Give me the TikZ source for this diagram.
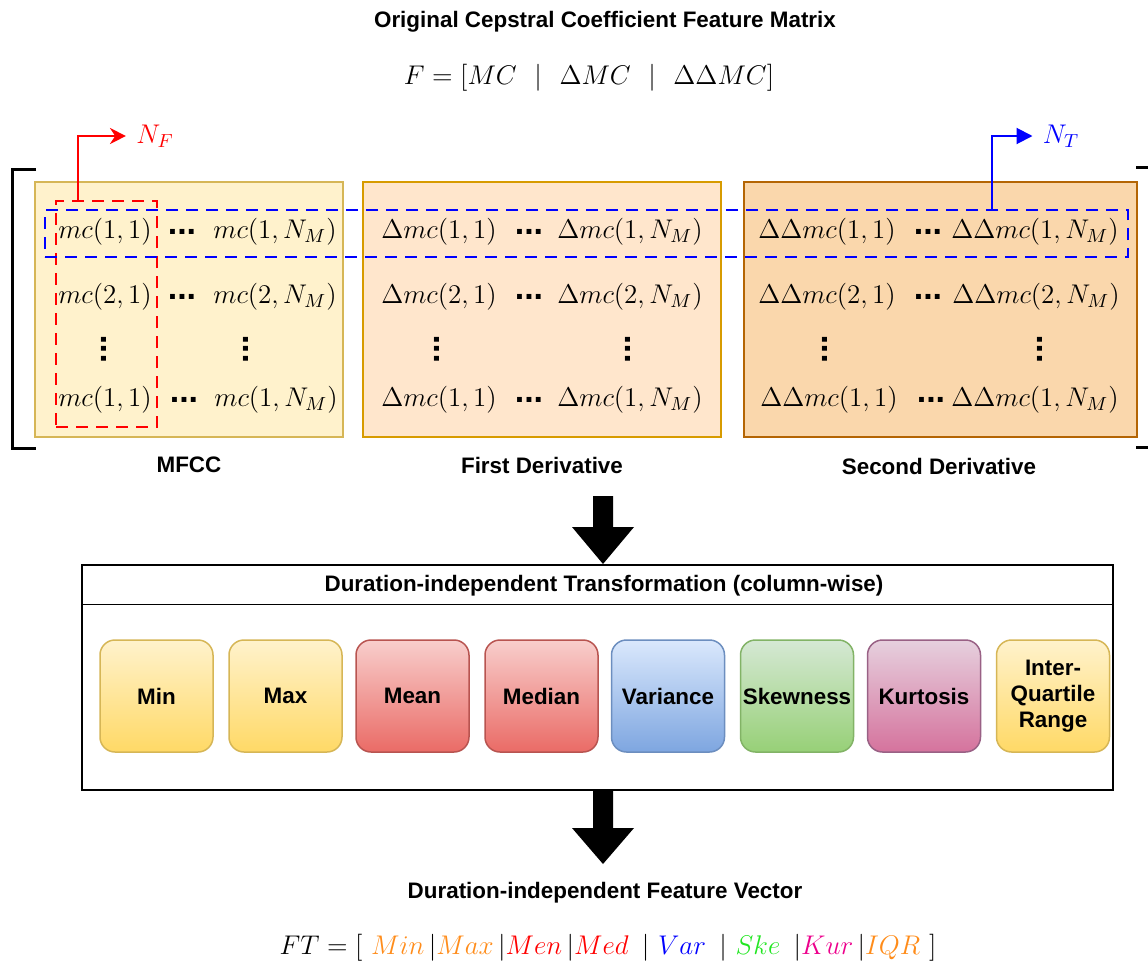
\RequirePackage{fix-cm}
\documentclass[tikz,border=0pt]{standalone}
\usepackage{fontspec}
\setsansfont{Liberation Sans}
\usetikzlibrary{arrows.meta}

\definecolor{mfccfill}{HTML}{FFF2CC}
\definecolor{mfccline}{HTML}{D6B656}
\definecolor{firstfill}{HTML}{FFE6CC}
\definecolor{firstline}{HTML}{D79B00}
\definecolor{secfill}{HTML}{FAD7AC}
\definecolor{secline}{HTML}{B46504}
\definecolor{ftorange}{HTML}{FF8C1A}
\definecolor{ftgreen}{HTML}{22E622}

\begin{document}
\begin{tikzpicture}[x=0.5pt, y=-0.5pt,
        lbl/.style = {font=\sffamily\bfseries\fontsize{11.2}{13}\selectfont, inner sep=0pt},
        ent/.style = {font=\fontsize{13.5}{15}\selectfont, inner sep=0pt},
        hdots/.style = {font=\sffamily\bfseries\fontsize{17}{17}\selectfont, inner sep=0pt, text height=2.3pt, text depth=0pt},
        vdots/.style = {hdots, rotate=90},
        mbox/.style = {draw, line width=0.75pt, inner sep=0pt, minimum width=154pt, minimum height=127.5pt},
        sel/.style = {draw, line width=1pt, dash pattern=on 6pt off 4pt, inner sep=0pt},
        brk/.style = {draw, line width=1.5pt},
        arr/.style = {draw, line width=1pt},
        stat/.style = {lbl, draw, line width=0.75pt, rounded corners=7.5pt, align=center, minimum width=56.5pt, minimum height=56pt},
        yellowstat/.style = {stat, top color=mfccfill, bottom color={rgb,255:red,255;green,217;blue,102}, draw=mfccline},
        redstat/.style = {stat, top color={rgb,255:red,248;green,206;blue,204}, bottom color={rgb,255:red,234;green,107;blue,102}, draw={rgb,255:red,184;green,84;blue,80}},
        bluestat/.style = {stat, top color={rgb,255:red,218;green,232;blue,252}, bottom color={rgb,255:red,126;green,166;blue,224}, draw={rgb,255:red,108;green,142;blue,191}},
        greenstat/.style = {stat, top color={rgb,255:red,213;green,232;blue,212}, bottom color={rgb,255:red,151;green,208;blue,119}, draw={rgb,255:red,130;green,179;blue,102}},
        purplestat/.style = {stat, top color={rgb,255:red,230;green,208;blue,222}, bottom color={rgb,255:red,213;green,115;blue,157}, draw={rgb,255:red,153;green,97;blue,133}},
    ]
    \useasboundingbox (0,0) rectangle (1148,964);

    % heading
    \node (title) [lbl] at (605,22) {Original Cepstral Coefficient Feature Matrix};
    \node (fdef) [ent] at (589,78) {$F = [MC \ \ | \ \ \Delta MC \ \ | \ \ \Delta\Delta MC]$};

    % bracket
    \path[brk] (36,169) -- (12,169) -- (12,448) -- (36,448);
    \path[brk] (1136,167) -- (1148,167);
    \path[brk] (1136,447) -- (1148,447);

    % the three blocks
    \node (mfcc) [mbox, fill=mfccfill, draw=mfccline] at (189,309.5) {};
    \node (first) [mbox, fill=firstfill, draw=firstline, minimum width=179pt] at (542,309.5) {};
    \node (second) [mbox, fill=secfill, draw=secline, minimum width=196.5pt] at (940.5,309.5) {};

    \node (mfcclbl) [lbl] at (189,465) {MFCC};
    \node (firstlbl) [lbl] at (542,465) {First Derivative};
    \node (secondlbl) [lbl] at (939,466) {Second Derivative};

    % MFCC entries
    \node (m11) [ent] at (105,232) {$mc(1,1)$};
    \node (m12) [ent] at (275,232) {$mc(1,N_M)$};
    \node (m21) [ent] at (105,297) {$mc(2,1)$};
    \node (m22) [ent] at (275,297) {$mc(2,N_M)$};
    \node (m41) [ent] at (105,400) {$mc(1,1)$};
    \node (m42) [ent] at (276,400) {$mc(1,N_M)$};
    \node [hdots] at (182,232) {...};
    \node [hdots] at (182,297) {...};
    \node [hdots] at (184,400) {...};
    \node [vdots] at (104,349) {...};
    \node [vdots] at (246,349) {...};

    % first derivative entries
    \node (d11) [ent] at (439,232) {$\Delta mc(1,1)$};
    \node (d12) [ent] at (630,232) {$\Delta mc(1,N_M)$};
    \node (d21) [ent] at (439,297) {$\Delta mc(2,1)$};
    \node (d22) [ent] at (630,297) {$\Delta mc(2,N_M)$};
    \node (d41) [ent] at (439,400) {$\Delta mc(1,1)$};
    \node (d42) [ent] at (630,400) {$\Delta mc(1,N_M)$};
    \node [hdots] at (529,232) {...};
    \node [hdots] at (529,297) {...};
    \node [hdots] at (529,400) {...};
    \node [vdots] at (437,349) {...};
    \node [vdots] at (628,349) {...};

    % second derivative entries
    \node (dd11) [ent] at (827,232) {$\Delta\Delta mc(1,1)$};
    \node (dd12) [ent] at (1035,232) {$\Delta\Delta mc(1,N_M)$};
    \node (dd21) [ent] at (827,297) {$\Delta\Delta mc(2,1)$};
    \node (dd22) [ent] at (1036,297) {$\Delta\Delta mc(2,N_M)$};
    \node (dd41) [ent] at (829,400) {$\Delta\Delta mc(1,1)$};
    \node (dd42) [ent] at (1035,400) {$\Delta\Delta mc(1,N_M)$};
    \node [hdots] at (928,232) {...};
    \node [hdots] at (928,297) {...};
    \node [hdots] at (931,400) {...};
    \node [vdots] at (825,349) {...};
    \node [vdots] at (1040,349) {...};

    % selections
    \node (fcol) [sel, red, minimum width=50.5pt, minimum height=113pt] at (106.5,314) {};
    \node (trow) [sel, blue, minimum width=541.5pt, minimum height=23.5pt] at (586.5,233.5) {};

    \node (nf) [ent, red] at (155,136) {$N_F$};
    \node (nt) [ent, blue] at (1061,136) {$N_T$};

    \path[arr, red, -{Stealth[length=8pt, width=8pt]}, shorten >=5pt] ([xshift=-14.25pt]fcol.north) |- (nf.west);
    \path[arr, blue, -{Triangle[length=8pt, width=8pt]}, shorten >=5pt] ([xshift=202.75pt]trow.north) |- (nt.west);

    % transformation
    \node (trans) [draw, line width=0.75pt, inner sep=0pt, minimum width=515.5pt, minimum height=112.5pt] at (597.5,677.5) {};
    \path[draw, line width=0.75pt] ([yshift=-20pt]trans.north west) -- ([yshift=-20pt]trans.north east);
    \node (translbl) [lbl] at (604,586) {Duration-independent Transformation (column-wise)};

    \node (min) [yellowstat] at (156.5,696) {Min};
    \node (max) [yellowstat] at (285.5,696) {Max};
    \node (mean) [redstat] at (412.5,696) {Mean};
    \node (median) [redstat] at (541.5,696) {Median};
    \node (var) [bluestat] at (668,696) {Variance};
    \node (skew) [greenstat] at (797,696) {Skewness};
    \node (kurt) [purplestat] at (924,696) {Kurtosis};
    \node (iqr) [yellowstat] at (1053,696) {Inter-\\Quartile\\Range};

    % block arrows
    \coordinate (a1) at (603,496);
    \coordinate (a2) at (603,790);
    \fill[shift={(a1)}] (-10,0) -- (10,0) -- (10,31) -- (31,31) -- (0,68) -- (-31,31) -- (-10,31) -- cycle;
    \fill[shift={(a2)}] (-10,0) -- (10,0) -- (10,38) -- (31,38) -- (0,74) -- (-31,38) -- (-10,38) -- cycle;

    % result
    \node (ftlbl) [lbl] at (605,893) {Duration-independent Feature Vector};
    \node (ft) [ent] at (608,948) {$FT = [\ \textcolor{ftorange}{Min}\,|\textcolor{ftorange}{Max}\,|\textcolor{red}{Men}\,|\textcolor{red}{Med}\ \,|\ \textcolor{blue}{Var}\ \,|\ \textcolor{ftgreen}{Ske}\ \,|\textcolor{magenta}{Kur}\,|\textcolor{ftorange}{IQR}\ ]$};
\end{tikzpicture}
\end{document}
